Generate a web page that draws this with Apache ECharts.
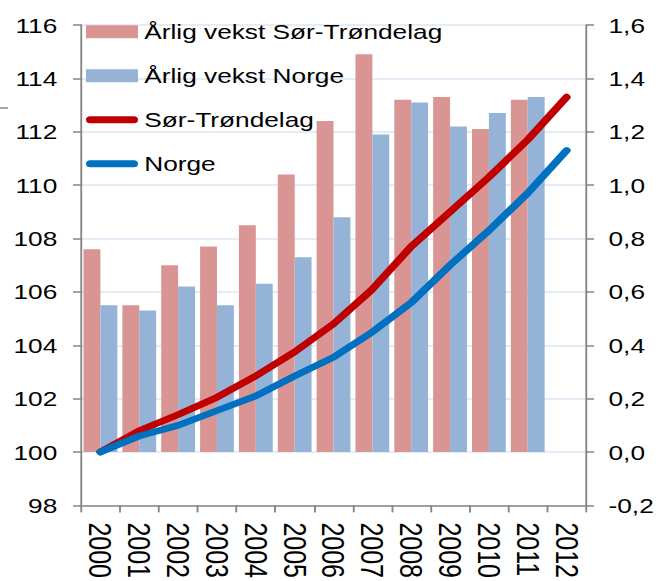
<!DOCTYPE html>
<html>
<head>
<meta charset="utf-8">
<script src="https://cdn.jsdelivr.net/npm/echarts@6/dist/echarts.min.js"></script>
<style>
html, body { margin: 0; padding: 0; background: #fff; overflow: hidden; }
#box { width: 526.4px; height: 581px; transform: scaleX(1.25); transform-origin: 0 0; }
</style>
</head>
<body>
<div id="box"></div>
<script>
var years = ['2000', '2001', '2002', '2003', '2004', '2005', '2006', '2007', '2008', '2009', '2010', '2011', '2012'];
var vekstST = [0.76, 0.55, 0.70, 0.77, 0.85, 1.04, 1.24, 1.49, 1.32, 1.33, 1.21, 1.32, null];
var vekstNorge = [0.55, 0.53, 0.62, 0.55, 0.63, 0.73, 0.88, 1.19, 1.31, 1.22, 1.27, 1.33, null];
var indeksST = [100, 100.8, 101.4, 102.05, 102.85, 103.75, 104.8, 106.1, 107.7, 109.0, 110.3, 111.7, 113.3];
var indeksNorge = [100, 100.6, 101.0, 101.55, 102.1, 102.85, 103.55, 104.5, 105.6, 107.0, 108.3, 109.7, 111.3];

var font = "'Liberation Sans', Arial, sans-serif";
var axisGray = '#868686';
// pill shaped legend icon for the line series
var pill = 'path://M3.5,0 L38.1,0 A3.5,3.5 0 0 1 38.1,7 L3.5,7 A3.5,3.5 0 0 1 3.5,0 Z';

var myChart = echarts.init(document.getElementById('box'), null, { renderer: 'svg' });

var option = {
	animation: false,
	textStyle: { fontFamily: font },
	grid: {
		left: 64.8,
		right: 56,
		top: 25,
		bottom: 73.3
	},
	legend: {
		orient: 'vertical',
		left: 68.8,
		top: 19.7,
		padding: 0,
		itemWidth: 41.6,
		itemHeight: 13,
		itemGap: 20,
		symbolKeepAspect: true,
		selectedMode: false,
		textStyle: { fontSize: 21, color: '#000', fontFamily: font, lineHeight: 24 },
		data: [
			{ name: 'Årlig vekst Sør-Trøndelag', icon: 'rect' },
			{ name: 'Årlig vekst Norge', icon: 'rect' },
			{ name: 'Sør-Trøndelag', icon: pill },
			{ name: 'Norge', icon: pill }
		]
	},
	xAxis: {
		type: 'category',
		data: years,
		axisLine: { onZero: false, lineStyle: { color: axisGray, width: 1.5 } },
		axisTick: { show: true, length: 7, lineStyle: { color: axisGray, width: 1.5 } },
		axisLabel: {
			interval: 0,
			rotate: -90,
			margin: 17,
			fontSize: 25,
			color: '#000',
			fontFamily: font
		}
	},
	yAxis: [{
		type: 'value',
		min: 98,
		max: 116,
		interval: 2,
		axisLine: { show: true, lineStyle: { color: axisGray, width: 1.5 } },
		axisTick: { show: true, length: 6.4, lineStyle: { color: axisGray, width: 1.5 } },
		axisLabel: { margin: 19, fontSize: 21, color: '#000', fontFamily: font },
		splitLine: { lineStyle: { color: '#DCE6F2', width: 1.5 } }
	}, {
		type: 'value',
		min: -0.2,
		max: 1.6,
		interval: 0.2,
		axisLine: { show: true, lineStyle: { color: axisGray, width: 1.5 } },
		axisTick: { show: true, length: 6.4, lineStyle: { color: axisGray, width: 1.5 } },
		axisLabel: {
			margin: 18,
			fontSize: 21,
			color: '#000',
			fontFamily: font,
			formatter: function (v) {
				return v.toFixed(1).replace('.', ',');
			}
		},
		splitLine: { show: false }
	}],
	series: [{
		name: 'Årlig vekst Sør-Trøndelag',
		type: 'bar',
		yAxisIndex: 1,
		data: vekstST,
		barGap: 0,
		barCategoryGap: '13%',
		itemStyle: { color: '#D99594' }
	}, {
		name: 'Årlig vekst Norge',
		type: 'bar',
		yAxisIndex: 1,
		data: vekstNorge,
		barGap: 0,
		barCategoryGap: '13%',
		itemStyle: { color: '#95B3D7' }
	}, {
		name: 'Sør-Trøndelag',
		type: 'line',
		yAxisIndex: 0,
		data: indeksST,
		symbol: 'none',
		lineStyle: { color: '#C00000', width: 6.5, cap: 'round', join: 'round' },
		itemStyle: { color: '#C00000' }
	}, {
		name: 'Norge',
		type: 'line',
		yAxisIndex: 0,
		data: indeksNorge,
		symbol: 'none',
		lineStyle: { color: '#0070C0', width: 6.5, cap: 'round', join: 'round' },
		itemStyle: { color: '#0070C0' }
	}],
	graphic: [{
		type: 'line',
		shape: { x1: 0, y1: 108, x2: 6.4, y2: 108 },
		style: { stroke: axisGray, lineWidth: 1.5 }
	}]
};

myChart.clear();
myChart.setOption(option);
</script>
</body>
</html>
